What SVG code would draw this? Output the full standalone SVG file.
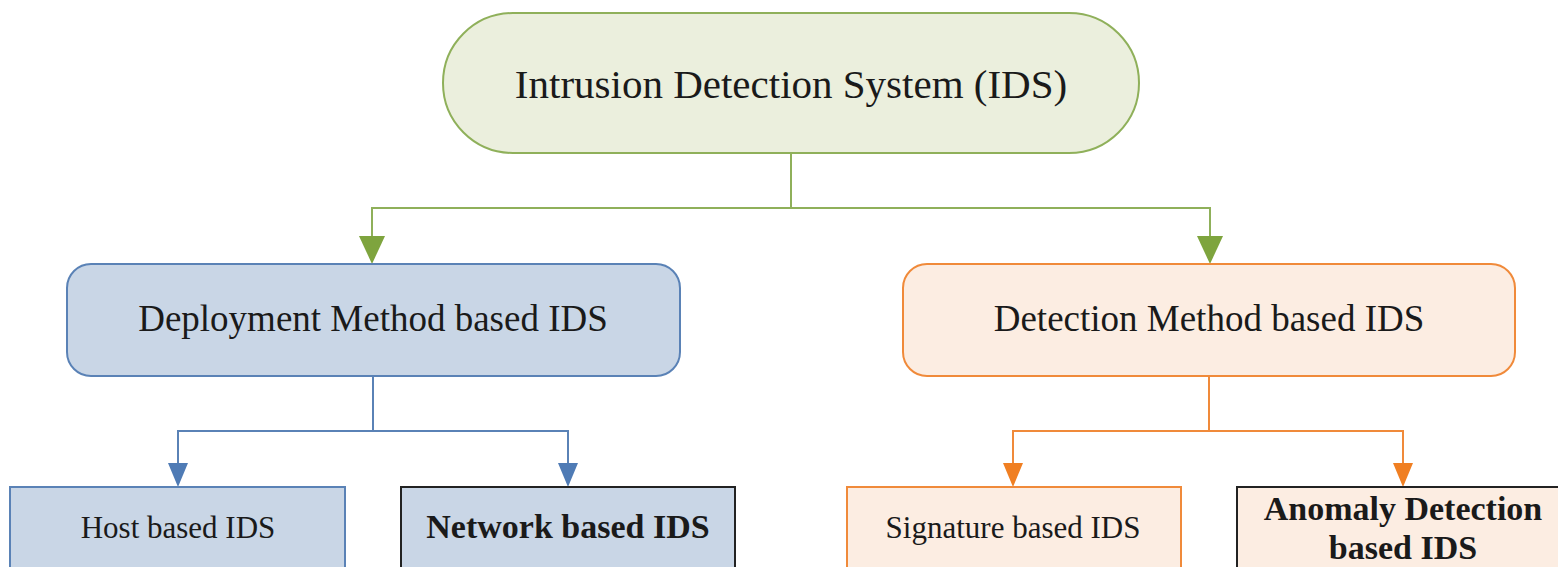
<svg xmlns="http://www.w3.org/2000/svg" width="1558" height="567" viewBox="0 0 1558 567">
<style>
text{font-family:"Liberation Serif","Times New Roman",serif;fill:#1a1a1a;text-anchor:middle}
.g{stroke:#8FB05A;fill:none;stroke-width:2}
.b{stroke:#5A82B6;fill:none;stroke-width:2}
.o{stroke:#F08A3A;fill:none;stroke-width:2}
.bl{fill:#C9D6E6;stroke:#5A82B6;stroke-width:2}
.or{fill:#FCEDE2;stroke:#F08A3A;stroke-width:2}
.dk{stroke:#222;stroke-width:2}
.ahg{fill:#7EA43E}
.ahb{fill:#4F7BB5}
.aho{fill:#F07F22}
</style>
<g id="connectors">
<path class="g" d="M791 153 V208 H372 V236"/>
<path class="g" d="M791 208 H1210 V236"/>
<path class="ahg" d="M359 236 L385 236 L372 264 Z"/>
<path class="ahg" d="M1197 236 L1223 236 L1210 264 Z"/>
<path class="b" d="M373 376 V431 H178 V466"/>
<path class="b" d="M373 431 H568 V466"/>
<path class="ahb" d="M168 463 L188 463 L178 487 Z"/>
<path class="ahb" d="M558 463 L578 463 L568 487 Z"/>
<path class="o" d="M1209 376 V431 H1013 V466"/>
<path class="o" d="M1209 431 H1403 V466"/>
<path class="aho" d="M1003 463 L1023 463 L1013 487 Z"/>
<path class="aho" d="M1393 463 L1413 463 L1403 487 Z"/>
</g>
<g id="ids">
<rect x="443" y="13" width="696" height="140" rx="70" fill="#EBEFDD" stroke="#8FB05A" stroke-width="2"/>
<text x="791" y="98" font-size="41">Intrusion Detection System (IDS)</text>
</g>
<g id="deployment">
<rect class="bl" x="67" y="264" width="613" height="112" rx="24"/>
<text x="373" y="331" font-size="37">Deployment Method based IDS</text>
</g>
<g id="detection">
<rect class="or" x="903" y="264" width="612" height="112" rx="24"/>
<text x="1209" y="331" font-size="37">Detection Method based IDS</text>
</g>
<g id="host">
<rect class="bl" x="10" y="487" width="335" height="100"/>
<text x="178" y="538" font-size="31">Host based IDS</text>
</g>
<g id="network">
<rect x="401" y="487" width="334" height="100" fill="#C9D6E6" class="dk"/>
<text x="568" y="538" font-size="34" font-weight="bold">Network based IDS</text>
</g>
<g id="signature">
<rect class="or" x="847" y="487" width="334" height="100"/>
<text x="1013" y="538" font-size="31">Signature based IDS</text>
</g>
<g id="anomaly">
<rect x="1237" y="487" width="334" height="100" fill="#FCEDE2" class="dk"/>
<text x="1403" y="520" font-size="34" font-weight="bold">Anomaly Detection</text>
<text x="1403" y="559" font-size="34" font-weight="bold">based IDS</text>
</g>
</svg>
